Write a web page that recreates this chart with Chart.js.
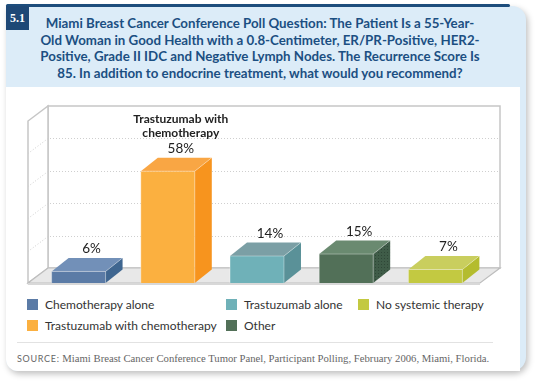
<!DOCTYPE html>
<html>
<head>
<meta charset="utf-8">
<script src="https://cdn.jsdelivr.net/npm/chart.js@4/dist/chart.umd.min.js"></script>
<style>
  html,body{margin:0;padding:0;background:#fff;}
  #page{position:relative;width:540px;height:384px;overflow:hidden;background:#fff;}
  #outer{position:absolute;left:6px;top:6px;width:520px;height:365px;background:#dcecf8;
    border-radius:0 14px 14px 12px;box-shadow:2px 3px 6px rgba(0,0,0,0.25);}
  #topline{position:absolute;left:6px;top:4px;width:504px;height:3px;background:#1d4d7c;border-radius:2px;}
  #num{position:absolute;left:6px;top:6px;width:23px;height:24px;background:#1e4876;color:#fff;
    font:bold 12px "Liberation Serif",serif;line-height:24px;text-align:center;}
  #title{position:absolute;left:10px;top:15px;width:500px;text-align:center;color:#1b4f82;
    font:bold 13.3px Lato,sans-serif;line-height:16.5px;}
  #inner{position:absolute;left:6px;top:87px;width:514px;height:284px;background:#fff;border-radius:0 0 0 12px;}
  #legend{position:absolute;left:0;top:0;}
  .lg{position:absolute;font:12px Lato,sans-serif;color:#333;white-space:nowrap;line-height:14px;}
  .lg span{position:absolute;left:0;top:1px;width:11px;height:11px;}
  .lg b{font-weight:normal;position:absolute;left:18px;top:0;}
  #sep{position:absolute;left:17px;top:342px;width:476px;height:1px;background:#e2e2e2;}
  #source{position:absolute;left:17px;top:351px;font:10.7px "Liberation Serif",serif;color:#666;white-space:nowrap;line-height:14px;}
  #source i{font:normal 9px Lato,sans-serif;letter-spacing:0.7px;}
  canvas{position:absolute;left:0;top:0;}
</style>
</head>
<body>
<div id="page">
  <div id="outer"></div>
  <div id="topline"></div>
  <div id="num">5.1</div>
  <div id="title">Miami Breast Cancer Conference Poll Question: The Patient Is a 55-Year-<br>Old Woman in Good Health with a 0.8-Centimeter, ER/PR-Positive, HER2-<br>Positive, Grade II IDC and Negative Lymph Nodes. The Recurrence Score Is<br>85. In addition to endocrine treatment, what would you recommend?</div>
  <div id="inner"></div>
  <div id="legend"></div>
  <div id="sep"></div>
  <div id="source"><i>SOURCE:</i> Miami Breast Cancer Conference Tumor Panel, Participant Polling, February 2006, Miami, Florida.</div>
  <canvas id="chart" width="540" height="384"></canvas>
</div>
<script>
// DATA
const categories = ['Chemotherapy alone', 'Trastuzumab with chemotherapy', 'Trastuzumab alone', 'Other', 'No systemic therapy'];
const percents = [6, 58, 14, 15, 7];
const barNotes = ['', ['Trastuzumab with', 'chemotherapy'], '', '', ''];

// STYLES
const frontColors = ['#5b7ba6', '#fbb040', '#6fb1b8', '#527058', '#c3c941'];
const topColors   = ['#7290b8', '#f9a644', '#7b9fa5', '#6a8a70', '#c9ce5e'];
const sideColors  = ['#3f6690', '#f7941e', '#5a9198', '#3f5c48', '#b4bc2e'];
const dottedSide  = [false, false, false, true, false];
const legendSpots = [[27, 298], [27, 319], [226, 298], [226, 319], [358, 298]];
const BAR_DX = 17, BAR_DY = 13.5;
const WALL_DX = 20, WALL_DY = 15;

// LEGEND
const legendEl = document.getElementById('legend');
categories.forEach((c, i) => {
  const d = document.createElement('div');
  d.className = 'lg';
  d.style.left = legendSpots[i][0] + 'px';
  d.style.top = legendSpots[i][1] + 'px';
  d.innerHTML = `<span style="background:${frontColors[i]}"></span><b>${c}</b>`;
  legendEl.appendChild(d);
});

// dotted texture for the 'Other' side face
function dotPattern(ctx, base) {
  const c = document.createElement('canvas');
  c.width = 3; c.height = 3;
  const p = c.getContext('2d');
  p.fillStyle = base; p.fillRect(0, 0, 3, 3);
  p.fillStyle = '#2f4737'; p.fillRect(0, 0, 1, 1);
  return ctx.createPattern(c, 'repeat');
}

// 3D walls + floor behind bars
const walls3d = {
  id: 'walls3d',
  beforeDatasetsDraw(chart) {
    const {ctx, chartArea: a, scales: {y}} = chart;
    const L = a.left - 6, R = a.right, B = y.getPixelForValue(0), T = y.getPixelForValue(y.max);
    ctx.save();
    // back wall
    ctx.fillStyle = '#fff';
    ctx.strokeStyle = '#c6c6c6';
    ctx.lineWidth = 1.5;
    ctx.beginPath();
    ctx.rect(L + WALL_DX, T - WALL_DY, R - L, B - T);
    ctx.fill(); ctx.stroke();
    // left wall
    ctx.beginPath();
    ctx.moveTo(L, B); ctx.lineTo(L, T); ctx.lineTo(L + WALL_DX, T - WALL_DY); ctx.lineTo(L + WALL_DX, B - WALL_DY);
    ctx.closePath(); ctx.fill(); ctx.stroke();
    // gridlines
    ctx.setLineDash([1, 2]);
    ctx.strokeStyle = '#cfcfcf';
    ctx.lineWidth = 1;
    y.ticks.forEach(t => {
      if (t.value <= 0 || t.value >= y.max) return;
      const py = Math.round(y.getPixelForValue(t.value)) + 0.5;
      ctx.beginPath();
      ctx.moveTo(L, py); ctx.lineTo(L + WALL_DX, py - WALL_DY); ctx.lineTo(R + WALL_DX - 2, py - WALL_DY);
      ctx.stroke();
    });
    ctx.setLineDash([]);
    // floor
    ctx.fillStyle = '#e8e8e8';
    ctx.strokeStyle = '#bdbdbd';
    ctx.lineWidth = 1.2;
    ctx.beginPath();
    ctx.moveTo(L, B); ctx.lineTo(L + WALL_DX, B - WALL_DY); ctx.lineTo(R + WALL_DX, B - WALL_DY); ctx.lineTo(R, B);
    ctx.closePath(); ctx.fill(); ctx.stroke();
    ctx.fillStyle = '#d8d8d8';
    ctx.fillRect(L, B, R - L, 2);
    ctx.restore();
  }
};

// 3D tops, sides and labels on bars
const bars3d = {
  id: 'bars3d',
  afterDatasetsDraw(chart) {
    const {ctx} = chart;
    const meta = chart.getDatasetMeta(0);
    ctx.save();
    meta.data.forEach((bar, i) => {
      const l = bar.x - bar.width / 2, r = bar.x + bar.width / 2, t = bar.y, b = bar.base;
      // top
      ctx.fillStyle = topColors[i];
      ctx.beginPath();
      ctx.moveTo(l, t); ctx.lineTo(l + BAR_DX, t - BAR_DY); ctx.lineTo(r + BAR_DX, t - BAR_DY); ctx.lineTo(r, t);
      ctx.closePath(); ctx.fill();
      // side
      ctx.fillStyle = dottedSide[i] ? dotPattern(ctx, sideColors[i]) : sideColors[i];
      ctx.beginPath();
      ctx.moveTo(r, t); ctx.lineTo(r + BAR_DX, t - BAR_DY); ctx.lineTo(r + BAR_DX, b - BAR_DY); ctx.lineTo(r, b);
      ctx.closePath(); ctx.fill();
      // light edges
      ctx.strokeStyle = 'rgba(255,255,255,0.35)';
      ctx.lineWidth = 1;
      ctx.beginPath();
      ctx.moveTo(l, b); ctx.lineTo(l, t); ctx.lineTo(r, t); ctx.lineTo(r, b);
      ctx.moveTo(r, t); ctx.lineTo(r + BAR_DX, t - BAR_DY);
      ctx.stroke();
      // value label
      const lx = bar.x + 13, ly = t - BAR_DY - 9;
      ctx.fillStyle = '#222';
      ctx.textAlign = 'center';
      ctx.textBaseline = 'middle';
      ctx.font = '13.5px Lato, sans-serif';
      ctx.fillText(percents[i] + '%', lx, ly);
      const note = barNotes[i];
      if (note) {
        ctx.font = 'bold 12px Lato, sans-serif';
        note.forEach((line, k) => ctx.fillText(line, lx, ly - 30 + k * 14));
      }
    });
    ctx.restore();
  }
};

new Chart(document.getElementById('chart'), {
  type: 'bar',
  data: {
    labels: categories,
    datasets: [{
      data: percents,
      backgroundColor: frontColors,
      borderWidth: 0,
      barPercentage: 0.605,
      categoryPercentage: 1
    }]
  },
  options: {
    responsive: false,
    animation: false,
    events: [],
    layout: {padding: {left: 34, right: 60, top: 121, bottom: 101}},
    plugins: {legend: {display: false}, tooltip: {enabled: false}},
    scales: {
      x: {display: false},
      y: {display: false, min: 0, max: 84, ticks: {stepSize: 16.8}}
    }
  },
  plugins: [walls3d, bars3d]
});
</script>
</body>
</html>
